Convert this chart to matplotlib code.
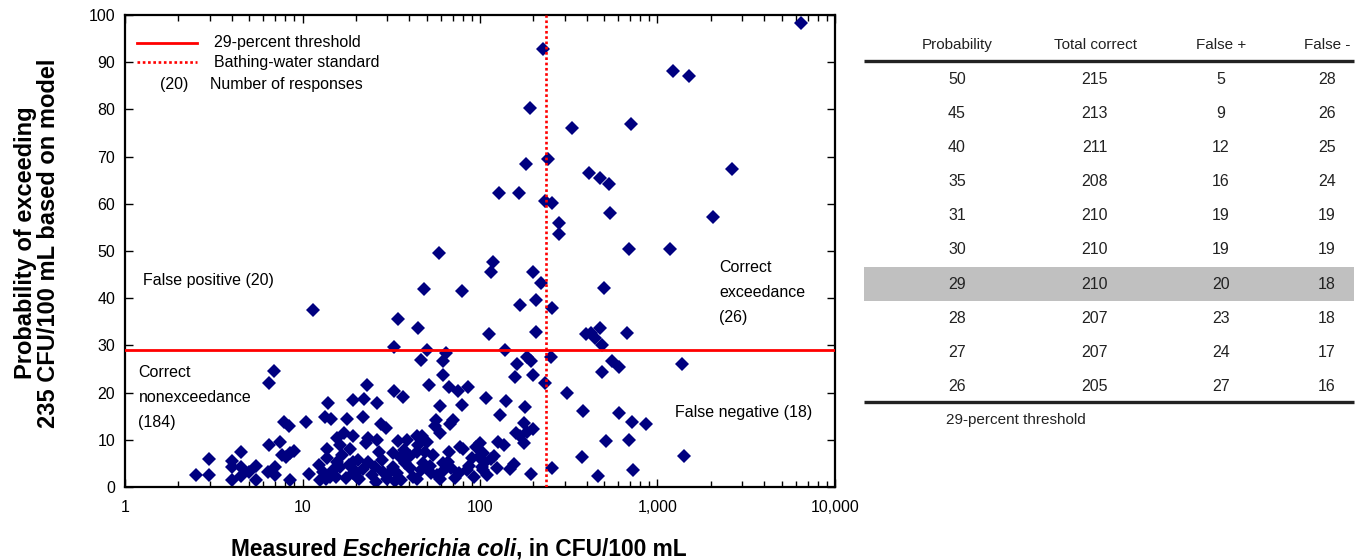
import matplotlib
matplotlib.use("Agg")
import matplotlib.pyplot as plt
from matplotlib.patches import Rectangle

plt.rcParams['font.family'] = ['Liberation Sans', 'DejaVu Sans']

# measured E. coli (CFU/100 mL) and modelled probability of exceedance (percent)
ecoli = [
    6430, 227, 1228, 1500, 191, 330, 713, 182, 241, 411, 476, 533, 2630, 128, 166,
    232, 255, 279, 279, 540, 2050, 688, 1175, 59, 118, 116, 200, 220, 79, 500,
    48.6, 168, 207, 254, 11.4, 34.7, 44.6, 477, 113, 206, 393, 422, 444, 670, 484,
    32.8, 50.1, 138,
    46.5, 62, 161, 185, 193, 64, 250, 62, 157, 198, 23.2, 51.6, 67, 75.5, 86,
    232, 308, 32.8, 36.7, 14.0, 19.3, 22.3, 26.2, 59.5, 78.9, 108, 141, 179,
    551, 609, 489, 1380, 382, 607, 716, 859, 513, 694, 377, 255, 464, 731, 1415,
    6.94, 6.48, 13.4, 14.4, 17.7, 7.9, 8.4, 10.5, 7.47, 6.48, 4.48, 2.97, 2.5, 2.97,
    4.0, 4.0, 4.0, 4.48, 4.48, 5.0, 5.47, 5.47, 6.4, 7.0, 7.0, 7.7, 8.1, 8.5, 8.9,
    8.5, 10.9, 12.4, 13.8, 13.8, 13.1, 13.5, 15.6, 16.3, 17.2, 16.6, 16.3, 15.5,
    18.5, 19.3, 19.3, 19.3, 20.4,
    21.8, 27.7, 29.5, 23.5, 22.8, 26.3, 34.7, 38.9, 44.3, 50.4, 15.6, 12.5, 14.3,
    18.3, 20.0, 20.6, 20.9, 23.5, 24.6, 27.9, 28.3, 29.8, 32.2, 32.2, 35.5, 37.1,
    40.2, 40.2, 42, 46.3, 44.3, 44.3,
    56.8, 55.6, 67.8, 70.6, 59.5, 130, 176, 159, 169, 185, 200, 176, 47, 77.5, 80,
    100, 126, 137, 49, 54.6, 67, 89.6, 98.5, 104, 107, 120, 62, 66, 69, 102, 104,
    125, 148, 155, 53, 61, 59.5, 76, 193,
    14.8, 17.5, 22, 25.5, 30.5, 34, 36, 38, 48, 52, 57, 72, 85, 92, 110, 115, 95,
    87, 27, 45, 26, 33,
]
prob = [
    98.4, 92.7, 88.1, 87.1, 80.3, 76.1, 77.0, 68.4, 69.5, 66.5, 65.4, 64.3, 67.4, 62.3, 62.3,
    60.6, 60.2, 56.0, 53.6, 58.1, 57.3, 50.4, 50.4, 49.6, 47.7, 45.6, 45.6, 43.3, 41.6, 42.1,
    42.0, 38.6, 39.6, 38.0, 37.5, 35.6, 33.6, 33.6, 32.4, 32.9, 32.4, 32.6, 31.5, 32.7, 30.1,
    29.7, 29.0, 29.0,
    26.9, 26.8, 26.1, 27.5, 26.8, 28.3, 27.6, 23.7, 23.2, 23.8, 21.6, 21.6, 21.1, 20.4, 21.2,
    22.0, 19.9, 20.4, 19.1, 17.9, 18.4, 18.7, 17.9, 17.2, 17.4, 18.8, 18.3, 16.9,
    26.8, 25.4, 24.4, 26.0, 16.2, 15.7, 13.8, 13.3, 9.8, 10.0, 6.4, 4.0, 2.4, 3.5, 6.6,
    24.6, 22.1, 14.9, 14.5, 14.5, 13.8, 13.0, 13.8, 9.5, 8.8, 7.4, 5.9, 2.5, 2.5,
    5.6, 4.3, 1.5, 4.3, 2.3, 3.2, 4.4, 1.5, 3.2, 4.2, 2.5, 6.8, 6.4, 7.1, 7.6,
    1.5, 2.8, 4.7, 8.0, 6.1, 3.2, 1.8, 10.3, 8.9, 11.4, 6.8, 4.3, 2.2,
    8.0, 10.7, 5.4, 2.9, 2.2,
    14.8, 13.3, 12.6, 10.3, 9.3, 10.0, 9.7, 10.0, 10.8, 9.6, 5.4, 1.5, 2.2,
    4.7, 3.2, 5.7, 1.6, 5.4, 2.5, 5.7, 3.2, 1.8, 4.3, 7.1, 6.3, 7.8,
    6.6, 4.0, 2.2, 3.7, 1.8, 7.5,
    14.1, 12.9, 13.3, 14.1, 11.4, 15.3, 13.6, 11.5, 10.7, 11.7, 12.2, 9.4, 10.8, 8.5, 8.0,
    9.3, 9.6, 9.0, 7.5, 6.8, 7.5, 6.1, 6.4, 7.1, 5.4, 6.6, 5.0, 5.4, 4.0, 4.3, 3.6,
    4.0, 3.8, 4.9, 2.9, 3.2, 1.8, 2.9, 2.8,
    3.5, 2.0, 3.8, 4.2, 2.7, 3.0, 1.5, 5.0, 5.0, 4.5, 2.5, 2.0, 3.5, 2.2, 2.5, 6.0, 8.5,
    4.5, 7.5, 9.0, 1.0, 1.2,
]

threshold = 29
standard = 235
xticks = [1, 10, 100, 1000, 10000]
xticklabels = ["1", "10", "100", "1,000", "10,000"]

# table of thresholds
headers = ["Probability", "Total correct", "False +", "False -"]
tbl_prob = [50, 45, 40, 35, 31, 30, 29, 28, 27, 26]
tbl_correct = [215, 213, 211, 208, 210, 210, 210, 207, 207, 205]
tbl_fpos = [5, 9, 12, 16, 19, 19, 20, 23, 24, 27]
tbl_fneg = [28, 26, 25, 24, 19, 19, 18, 18, 17, 16]

W, H = 1359, 560
fig = plt.figure(figsize=(W / 100, H / 100), dpi=100)
ax = fig.add_axes([125 / W, 1 - 487 / H, 710 / W, 472 / H])

ax.plot(ecoli, prob, linestyle='none', marker='D', markersize=7,
        color='#000080', markeredgewidth=0, zorder=2)
ax.axhline(threshold, color='#ff0000', lw=2.0, zorder=3)
ax.axvline(standard, color='#ff0000', lw=1.9, linestyle=(0, (1, 1)), zorder=3)

ax.set_xscale('log')
ax.set_xlim(1, 10000)
ax.set_ylim(0, 100)
ax.set_yticks(range(0, 101, 10))
ax.set_xticks(xticks)
ax.set_xticklabels(xticklabels)
ax.tick_params(which='both', direction='in', top=True, right=True, labelsize=11.5,
               width=1.0)
ax.tick_params(which='major', length=6)
ax.tick_params(which='minor', length=4)
ax.tick_params(axis='x', pad=9)
ax.tick_params(axis='y', pad=7)
for s in ax.spines.values():
    s.set_linewidth(1.6)

# legend drawn by hand
ax.plot([0.017, 0.101], [0.941, 0.941], transform=ax.transAxes, color='#ff0000', lw=2.0)
ax.plot([0.017, 0.101], [0.900, 0.900], transform=ax.transAxes, color='#ff0000', lw=1.9,
        linestyle=(0, (1, 1)))
fs = 11.5
ax.text(0.126, 0.941, "29-percent threshold", transform=ax.transAxes, va='center', fontsize=fs)
ax.text(0.126, 0.900, "Bathing-water standard", transform=ax.transAxes, va='center', fontsize=fs)
ax.text(0.049, 0.852, "(20)", transform=ax.transAxes, va='center', fontsize=fs)
ax.text(0.120, 0.852, "Number of responses", transform=ax.transAxes, va='center', fontsize=fs)

# quadrant labels
ax.text(0.026, 0.437, "False positive (20)", transform=ax.transAxes, va='center', fontsize=fs)
ax.text(0.019, 0.189, "Correct\nnonexceedance\n(184)", transform=ax.transAxes, va='center',
        fontsize=fs, linespacing=1.85)
ax.text(0.837, 0.412, "Correct\nexceedance\n(26)", transform=ax.transAxes, va='center',
        fontsize=fs, linespacing=1.85)
ax.text(0.775, 0.158, "False negative (18)", transform=ax.transAxes, va='center', fontsize=fs)

# axis titles
fig.text(37 / W, 1 - 243 / H, "Probability of exceeding\n235 CFU/100 mL based on model",
         rotation=90, ha='center', va='center', fontsize=17, fontweight='bold', linespacing=1.05)

renderer = fig.canvas.get_renderer()
parts = [("Measured ", 'normal'), ("Escherichia coli", 'italic'), (", in CFU/100 mL", 'normal')]
txts = [fig.text(0, 1 - 549 / H, p, fontsize=16.4, fontweight='bold', style=st, va='center')
        for p, st in parts]
widths = [t.get_window_extent(renderer).width for t in txts]
x0 = 459 - sum(widths) / 2
for t, w in zip(txts, widths):
    t.set_x(x0 / W)
    x0 += w

# table in pixel space
tax = fig.add_axes([0, 0, 1, 1], zorder=-1)
tax.set_xlim(0, W)
tax.set_ylim(H, 0)
tax.axis('off')
col_x = [957, 1095, 1221, 1327]
row0, dy = 79, 34.2
for cx, h in zip(col_x, headers):
    tax.text(cx, 45, h, ha='center', va='center', fontsize=11, color='#222222')
tax.plot([864, 1354], [61, 61], color='#222222', lw=2.4, solid_capstyle='butt')
for i, row in enumerate(zip(tbl_prob, tbl_correct, tbl_fpos, tbl_fneg)):
    y = row0 + i * dy
    if row[0] == threshold:
        tax.add_patch(Rectangle((864, y - 16.8), 490, 33.6, facecolor='#c0c0c0',
                                edgecolor='none'))
    for cx, v in zip(col_x, row):
        tax.text(cx, y, str(v), ha='center', va='center', fontsize=11.5, color='#222222')
tax.plot([864, 1354], [402, 402], color='#222222', lw=2.4, solid_capstyle='butt')
tax.text(946, 420, "29-percent threshold", ha='left', va='center', fontsize=11, color='#222222')

fig.savefig("out.png", dpi=100)
